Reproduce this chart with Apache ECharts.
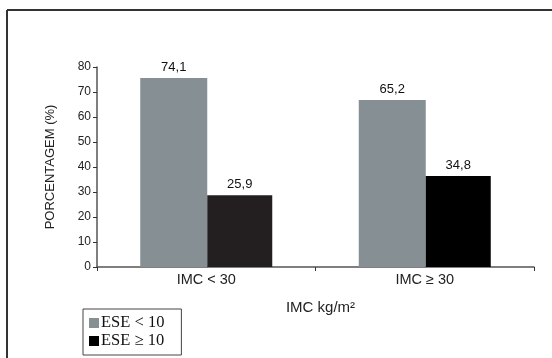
<!DOCTYPE html>
<html>
<head>
<meta charset="utf-8">
<script src="https://cdn.jsdelivr.net/npm/echarts@6/dist/echarts.min.js"></script>
<style>
html,body{margin:0;padding:0;background:#fff;}
#c{width:552px;height:358px;}
</style>
</head>
<body>
<div id="c"></div>
<script>
// Data
var categories = ['IMC < 30', 'IMC \u2265 30'];
var seriesNames = ['ESE < 10', 'ESE \u2265 10'];
// bar heights as drawn in the picture (%)
var eseLow = [75.6, 66.8];
var eseHigh = [28.7, 36.4];
// printed value labels
var eseLowLabels = ['74,1', '65,2'];
var eseHighLabels = ['25,9', '34,8'];
var yTicks = [0, 10, 20, 30, 40, 50, 60, 70, 80];

var chart = echarts.init(document.getElementById('c'), null, {renderer: 'canvas'});
var sansFont = '"Liberation Sans", Arial, sans-serif';
var option = {
  animation: false,
  backgroundColor: '#fff',
  grid: {left: 97, right: 18, top: 67, bottom: 91, containLabel: false},
  legend: {
    orient: 'vertical',
    left: 83, top: 309,
    padding: [5, 17, 5, 6],
    borderColor: '#444', borderWidth: 1,
    itemWidth: 10, itemHeight: 10, itemGap: 0,
    icon: 'rect',
    textStyle: {fontFamily: '"Liberation Serif", "Times New Roman", serif', fontSize: 16.5, lineHeight: 18, color: '#111', padding: [0,0,0,-3]},
    data: seriesNames
  },
  xAxis: {
    type: 'category',
    data: categories,
    name: 'IMC kg/m\u00b2',
    nameLocation: 'middle',
    nameGap: 33,
    nameTextStyle: {fontFamily: sansFont, fontSize: 15, color: '#222', padding: [0,0,0,10]},
    axisLine: {lineStyle: {color: '#555', width: 1.5}},
    axisTick: {show: true, alignWithLabel: false, length: 4, lineStyle: {color: '#333'}},
    axisLabel: {fontFamily: sansFont, fontSize: 14.5, color: '#222', margin: 5}
  },
  yAxis: {
    type: 'value',
    min: yTicks[0], max: yTicks[yTicks.length - 1], interval: 10,
    name: 'PORCENTAGEM (%)',
    nameLocation: 'middle',
    nameGap: 40,
    nameRotate: 90,
    nameTextStyle: {fontFamily: sansFont, fontSize: 13, color: '#222'},
    axisLine: {show: true, lineStyle: {color: '#555', width: 1.5}},
    axisTick: {show: true, length: 4, lineStyle: {color: '#333'}},
    axisLabel: {fontFamily: sansFont, fontSize: 12, color: '#222', margin: 6},
    splitLine: {show: false}
  },
  graphic: [
    {type: 'line', shape: {x1: 7, y1: 10, x2: 552, y2: 10}, style: {stroke: '#333', lineWidth: 2}},
    {type: 'line', shape: {x1: 7, y1: 10, x2: 7, y2: 358}, style: {stroke: '#333', lineWidth: 2}}
  ],
  series: [
    {
      name: seriesNames[0], type: 'bar', data: eseLow,
      barWidth: 67, barGap: '0%', barCategoryGap: '38%',
      itemStyle: {color: '#868f93'},
      label: {show: true, position: 'top', distance: 4, fontFamily: sansFont, fontSize: 13, color: '#111',
        formatter: function (p) { return eseLowLabels[p.dataIndex]; }}
    },
    {
      name: seriesNames[1], type: 'bar',
      data: [{value: eseHigh[0], itemStyle: {color: '#231f20'}}, {value: eseHigh[1], itemStyle: {color: '#000'}}],
      barWidth: 65,
      itemStyle: {color: '#000'},
      label: {show: true, position: 'top', distance: 4, fontFamily: sansFont, fontSize: 13, color: '#111',
        formatter: function (p) { return eseHighLabels[p.dataIndex]; }}
    }
  ]
};
chart.setOption(option);
</script>
</body>
</html>
